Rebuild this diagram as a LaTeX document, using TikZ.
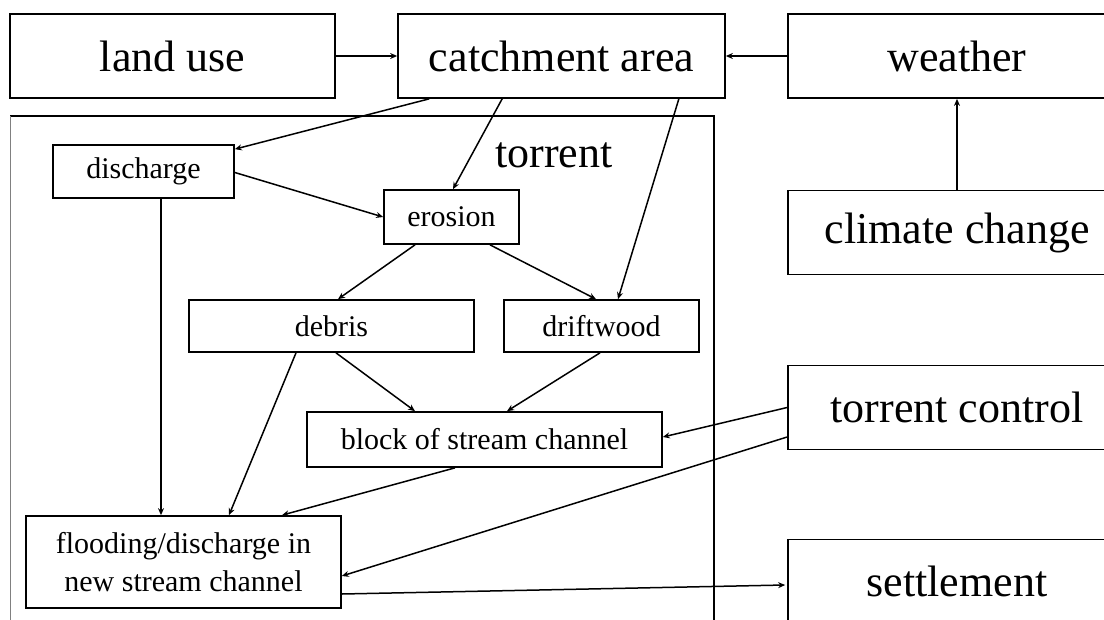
\documentclass[tikz,border=0pt]{standalone}
\usepackage{fontspec}
\setmainfont{Liberation Serif}
\usetikzlibrary{arrows.meta}
\begin{document}
\begin{tikzpicture}[x=1pt,y=-1pt,
    bigbox/.style={draw,line width=1.7pt,inner sep=0pt,minimum height=84pt,font=\fontsize{44}{48}\selectfont},
    smallbox/.style={draw,line width=1.7pt,inner sep=0pt,font=\fontsize{30}{38}\selectfont},
    arr/.style={line width=1.5pt,-{Stealth[length=7pt,width=6pt]}}]
  \useasboundingbox (0,0) rectangle (1104,619);
  \clip (0,0) rectangle (1104,619);
  % outer boxes
  \node[bigbox,minimum width=325pt] (land)    at (172.5,56)  {land use};
  \node[bigbox,minimum width=327pt] (catch)   at (561.5,56)  {catchment area};
  \node[bigbox,minimum width=338pt] (weather) at (957,56)    {weather};
  \node[bigbox,minimum width=338pt] (climate) at (957,232.5) {climate change};
  \node[bigbox,minimum width=338pt] (control) at (957,407.5) {torrent control};
  \node[bigbox,minimum width=338pt] (settle)  at (957,581.5) {settlement};
  % torrent frame
  \draw[line width=1.7pt] (10,116) -- (714,116) -- (714,640);
  \draw[gray,line width=1pt] (10,116) -- (10,640);
  \node[font=\fontsize{44}{48}\selectfont] (torrent) at (554,155) {torrent};
  % inner boxes
  \node[smallbox,minimum width=181pt,minimum height=53pt] (disch)  at (143.5,171.5) {discharge};
  \node[smallbox,minimum width=135pt,minimum height=54pt] (erosion) at (451.5,217)  {erosion};
  \node[smallbox,minimum width=285pt,minimum height=52pt] (debris) at (331.5,326)   {debris};
  \node[smallbox,minimum width=195pt,minimum height=52pt] (drift)  at (601.5,326)   {driftwood};
  \node[smallbox,minimum width=355pt,minimum height=55pt] (block)  at (484.5,439.5) {block of stream channel};
  \node[smallbox,minimum width=315pt,minimum height=92pt,align=center] (flood) at (183.5,562)
    {flooding/discharge in\\new stream channel};
  % connectors
  \draw[arr] (land) -- (catch);
  \draw[arr] (weather) -- (catch);
  \draw[arr] (climate) -- (weather);
  \draw[arr] ([xshift=32pt]catch.south west) -- ([yshift=-5pt]disch.north east);
  \draw[arr] ([xshift=105pt]catch.south west) -- ([xshift=1.5pt]erosion.north);
  \draw[arr] ([xshift=-47pt]catch.south east) -- ([xshift=16.5pt]drift.north);
  \draw[arr] ([yshift=-1pt]disch.east) -- (erosion.west);
  \draw[arr] ([xshift=17.5pt]disch.south) -- ([xshift=-22.5pt]flood.north);
  \draw[arr] ([xshift=-36.5pt]erosion.south) -- ([xshift=6.5pt]debris.north);
  \draw[arr] ([xshift=38.5pt]erosion.south) -- ([xshift=-5.5pt]drift.north);
  \draw[arr] ([xshift=4.5pt]debris.south) -- ([xshift=-69.5pt]block.north);
  \draw[arr] ([xshift=-1.5pt]drift.south) -- ([xshift=22.5pt]block.north);
  \draw[arr] ([xshift=-35.5pt]debris.south) -- ([xshift=45.5pt]flood.north);
  \draw[arr] ([xshift=-29.5pt]block.south) -- ([xshift=98.5pt]flood.north);
  \draw[arr] (control.west) -- ([yshift=2.5pt]block.east);
  \draw[arr] ([yshift=-29.5pt]control.west) -- ([yshift=-14pt]flood.east);
  \draw[arr] ([yshift=-32pt]flood.east) -- ([xshift=-2pt,yshift=-3.5pt]settle.west);
\end{tikzpicture}
\end{document}
